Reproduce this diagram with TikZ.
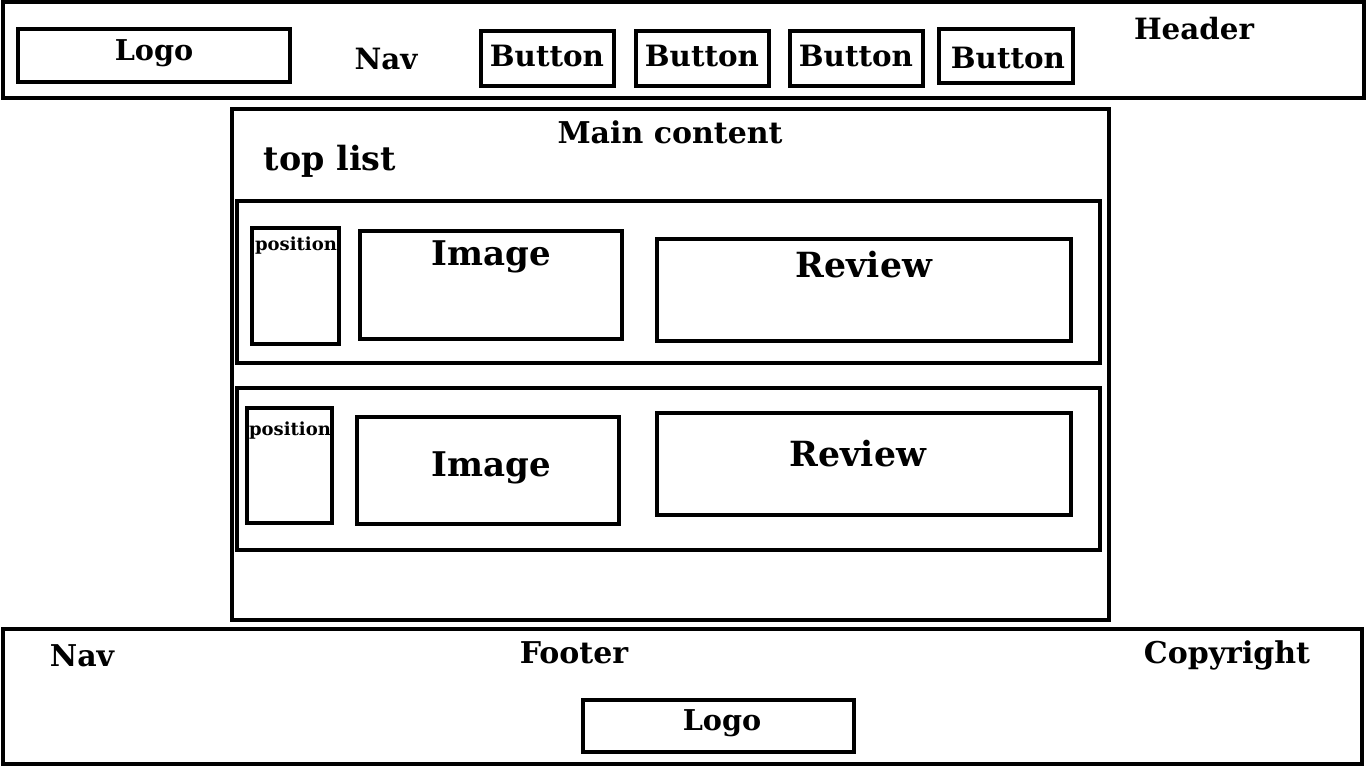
\documentclass[tikz,border=0pt]{standalone}
\usepackage{fontspec}
\setmainfont{DejaVu Serif}
\usetikzlibrary{fit}
\tikzset{
  box/.style={draw=black, line width=2.8pt, inner sep=0pt, fill=none},
  frame/.style={draw=black, line width=2.4pt, inner sep=0pt},
  lbl/.style={inner sep=0pt, font=\bfseries\fontsize{#1}{#1}\selectfont},
  lbl/.default=20pt
}
\begin{document}
\begin{tikzpicture}[x=0.75pt,y=-0.75pt]
\useasboundingbox (0,0) rectangle (1366,768);
% header
\node[frame, fit={(3,2) (1364,98)}] (header) {};
\node[box, fit={(18,29) (290,82)}] (hlogo) {};
\node[lbl=21.5pt] (hlogot) at (154,53) {Logo};
\node[lbl=22pt] (hnav) at (386,59) {Nav};
\node[box, fit={(481,31) (614,86)}] (b1) {};
\node[box, fit={(636,31) (769,86)}] (b2) {};
\node[box, fit={(790,31) (923,86)}] (b3) {};
\node[box, fit={(939,29) (1073,83)}] (b4) {};
\node[lbl=22pt] (b1t) at (547,56) {Button};
\node[lbl=22pt] (b2t) at (702,56) {Button};
\node[lbl=22pt] (b3t) at (856,56) {Button};
\node[lbl=22pt] (b4t) at (1008,58) {Button};
\node[lbl=22pt] (hdrt) at (1194,29) {Header};
% main
\node[frame, fit={(232,109) (1109,620)}] (main) {};
\node[lbl=22.5pt] (maint) at (670,132) {Main content};
\node[lbl=25pt] (top) at (330,161) {top list};
% row 1
\node[box, fit={(237,201) (1100,363)}] (row1) {};
\node[box, fit={(252,228) (339,344)}] (pos1) {};
\node[lbl=13.5pt] (pos1t) at (296,246) {position};
\node[box, fit={(360,231) (622,339)}] (img1) {};
\node[lbl=25.5pt] (img1t) at (491,257) {Image};
\node[box, fit={(657,239) (1071,341)}] (rev1) {};
\node[lbl=26pt] (rev1t) at (864,265) {Review};
% row 2
\node[box, fit={(237,388) (1100,550)}] (row2) {};
\node[box, fit={(247,408) (332,523)}] (pos2) {};
\node[lbl=13.5pt] (pos2t) at (290,431) {position};
\node[box, fit={(357,417) (619,524)}] (img2) {};
\node[lbl=25.5pt] (img2t) at (491,468) {Image};
\node[box, fit={(657,413) (1071,515)}] (rev2) {};
\node[lbl=26pt] (rev2t) at (858,454) {Review};
% footer
\node[frame, fit={(3,629) (1362,764)}] (footer) {};
\node[lbl=22.5pt] (fnav) at (82,656) {Nav};
\node[lbl=22.5pt] (foott) at (574,653) {Footer};
\node[lbl=22.5pt] (copy) at (1227,655) {Copyright};
\node[box, fit={(583,700) (854,752)}] (flogo) {};
\node[lbl=21.5pt] (flogot) at (722,723) {Logo};
\end{tikzpicture}
\end{document}
